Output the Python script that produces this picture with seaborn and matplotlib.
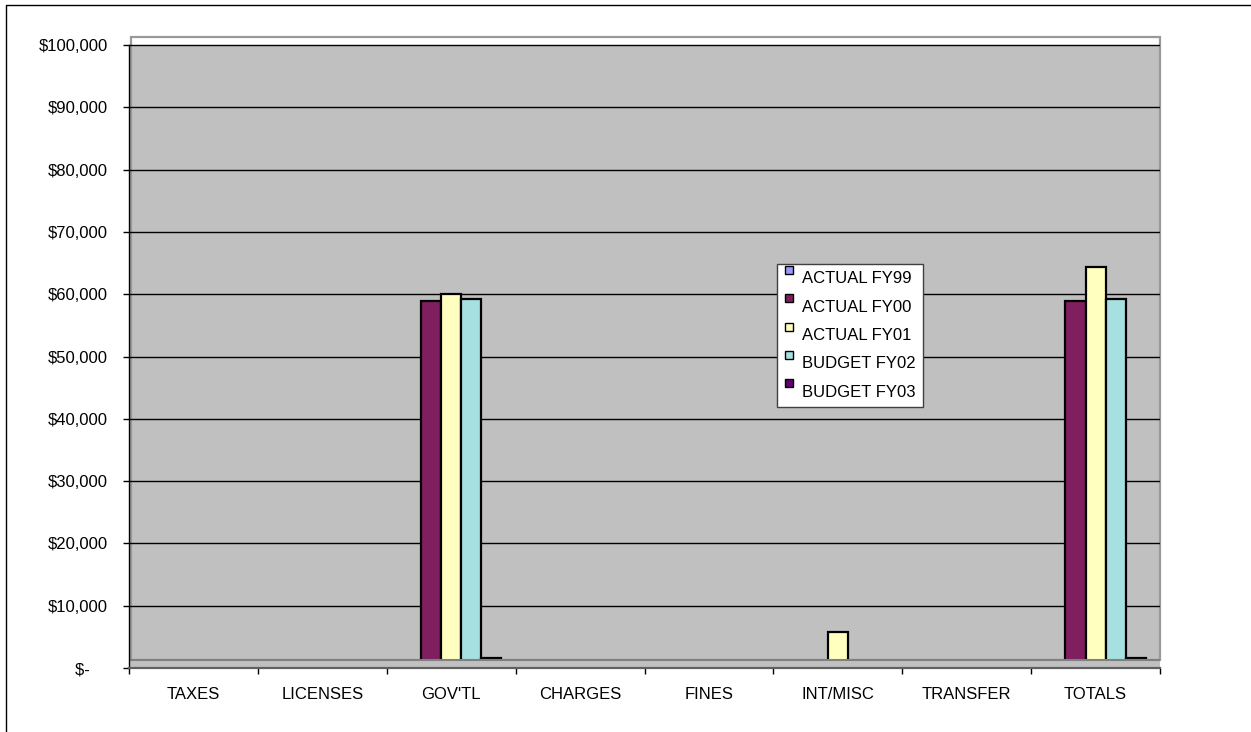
import matplotlib
matplotlib.use("Agg")
import matplotlib.pyplot as plt
from matplotlib.patches import Rectangle, Patch
from matplotlib.lines import Line2D
from matplotlib.legend_handler import HandlerPatch
import numpy as np
import pandas as pd
import seaborn as sns

# ---- data ---------------------------------------------------------------
categories = ["TAXES", "LICENSES", "GOV'TL", "CHARGES", "FINES",
              "INT/MISC", "TRANSFER", "TOTALS"]
series = ["ACTUAL FY99", "ACTUAL FY00", "ACTUAL FY01",
          "BUDGET FY02", "BUDGET FY03"]
nan = np.nan
actual_fy99 = [nan, nan, nan, nan, nan, nan, nan, nan]
actual_fy00 = [nan, nan, 58900, nan, nan, nan, nan, 58900]
actual_fy01 = [nan, nan, 60000, nan, nan, 5700, nan, 64400]
budget_fy02 = [nan, nan, 59200, nan, nan, nan, nan, 59200]
budget_fy03 = [nan, nan, 1600, nan, nan, nan, nan, 1600]
y_ticks = [0, 10000, 20000, 30000, 40000, 50000,
           60000, 70000, 80000, 90000, 100000]
y_tick_labels = ["$-    ", "$10,000", "$20,000", "$30,000", "$40,000",
                 "$50,000", "$60,000", "$70,000", "$80,000", "$90,000",
                 "$100,000"]

colors = ["#9999FF", "#7F1F5F", "#FFFFC0", "#A6E0E0", "#600070"]

values = [actual_fy99, actual_fy00, actual_fy01, budget_fy02, budget_fy03]
df = pd.DataFrame({
    "category": [c for _ in series for c in categories],
    "series": [s for s in series for _ in categories],
    "value": [v for vals in values for v in vals],
})

# ---- figure -------------------------------------------------------------
sns.set_theme(style="white")
plt.rcParams["font.family"] = ["Liberation Sans", "DejaVu Sans"]
plt.rcParams["text.color"] = "black"

W, H = 1251, 732
fig = plt.figure(figsize=(W / 100, H / 100), dpi=100)
fig.patch.set_facecolor("white")
ax = fig.add_axes([129 / W, (H - 668) / H, (1160 - 129) / W, (668 - 37) / H])
ax.set_facecolor("white")

FLOOR = 1300          # depth of the chart floor, in axis units
TOP = 101300          # top edge of the back-wall frame
ax.set_xlim(-0.5, len(categories) - 0.5)
ax.set_ylim(0, TOP)

# back wall and its frame
x0 = -0.5 + 0.015
ax.add_patch(Rectangle((x0, FLOOR), len(categories) - 0.015, 100000 - FLOOR,
                       facecolor="#C0C0C0", edgecolor="none", zorder=0.1))
ax.add_patch(Rectangle((x0, FLOOR), len(categories) - 0.015, TOP - FLOOR,
                       fill=False, edgecolor="#999999", linewidth=1.6,
                       clip_on=False, zorder=0.3))

ax.set_axisbelow(True)
ax.yaxis.grid(True, color="black", linewidth=1.0)
ax.xaxis.grid(False)

sns.barplot(data=df, x="category", y="value", hue="series",
            order=categories, hue_order=series, palette=colors,
            width=0.78, errorbar=None, edgecolor="black", linewidth=1.6,
            saturation=1, legend=False, ax=ax, zorder=2)

# floor strip in front of the bar bases
ax.add_patch(Rectangle((-0.5, 0), len(categories), FLOOR,
                       facecolor="#C0C0C0", edgecolor="none", zorder=3))
ax.axhline(FLOOR, color="#808080", linewidth=1.5, zorder=3.1)

# ---- axes styling -------------------------------------------------------
for side in ("top", "right"):
    ax.spines[side].set_visible(False)
ax.spines["left"].set_color("black")
ax.spines["left"].set_linewidth(1.0)
ax.spines["left"].set_bounds(0, 100000)
ax.spines["bottom"].set_color("#606060")
ax.spines["bottom"].set_linewidth(1.6)
ax.spines["left"].set_zorder(4)
ax.spines["bottom"].set_zorder(4)

ax.set_yticks(y_ticks)
ax.set_yticklabels(y_tick_labels)
ax.tick_params(axis="y", direction="out", length=4.3, width=1.0,
               color="black", labelsize=12, pad=10.8, left=True,
               labelcolor="black")

ax.set_xticks(range(len(categories)))
ax.set_xticklabels(categories)
ax.set_xticks(np.arange(-0.5, len(categories), 1.0), minor=True)
ax.tick_params(axis="x", which="major", length=0, labelsize=12, pad=14,
               labelcolor="black")
ax.tick_params(axis="x", which="minor", direction="out", length=4.3,
               width=1.0, color="black", bottom=True)
ax.set_xlabel("")
ax.set_ylabel("")


# ---- legend -------------------------------------------------------------
def square_patch(legend, orig_handle, xdescent, ydescent, width, height,
                 fontsize):
    side = width
    return Rectangle((-xdescent, -ydescent + (height - side) / 2 + 5.5),
                     side, side)


handles = [Patch(facecolor=c, edgecolor="black", linewidth=1.0, label=s)
           for s, c in zip(series, colors)]
leg = ax.legend(handles=handles, loc="upper left",
                bbox_to_anchor=(777 / W, 1 - 264 / H),
                bbox_transform=fig.transFigure, borderaxespad=0,
                fontsize=12, frameon=True, fancybox=False, framealpha=1,
                edgecolor="#404040", handlelength=0.48, handleheight=0.48,
                handletextpad=0.55, labelspacing=0.8, borderpad=0.45,
                handler_map={Patch: HandlerPatch(patch_func=square_patch)})
leg.get_frame().set_linewidth(1.0)
for t in leg.get_texts():
    t.set_color("black")
leg.set_zorder(5)

# chart border along the top and left edges
fig.add_artist(Line2D([5.5 / W, 5.5 / W, 1.05], [-0.05, 1 - 5 / H, 1 - 5 / H],
                      transform=fig.transFigure, color="black",
                      linewidth=1.0, clip_on=False))

fig.savefig("out.png", dpi=100, facecolor="white")
